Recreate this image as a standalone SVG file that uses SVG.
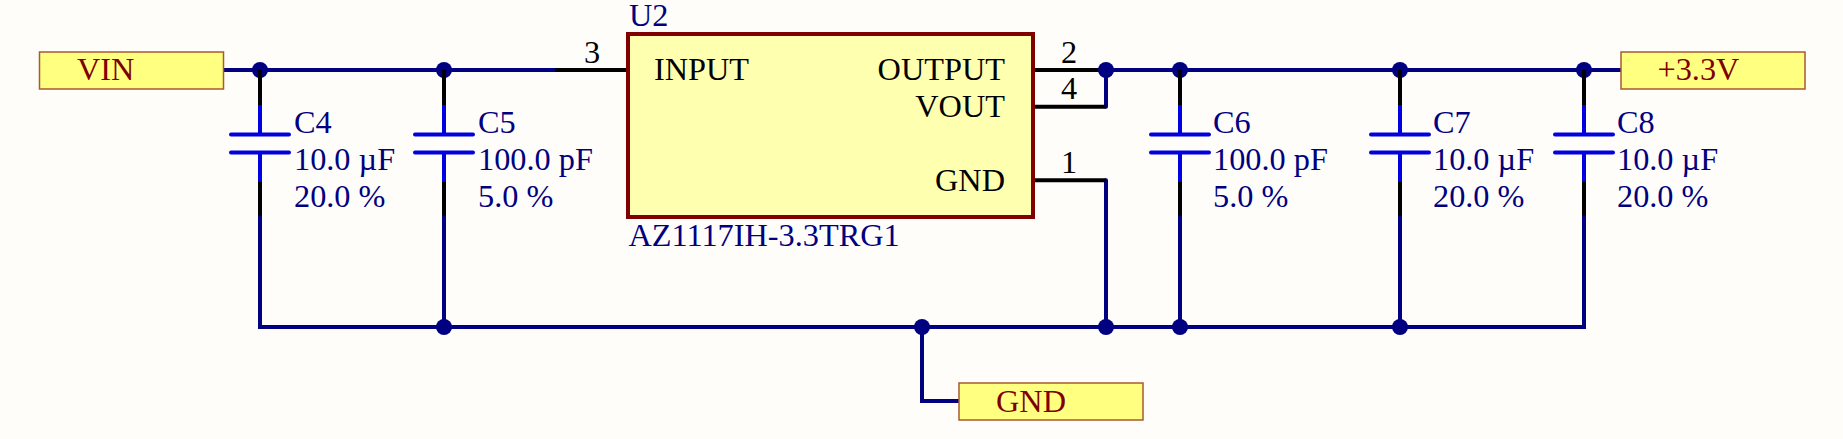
<svg xmlns="http://www.w3.org/2000/svg" width="1843" height="439" viewBox="0 0 1843 439">
<style>
text{font-family:"Liberation Serif","Times New Roman",serif;font-size:32.3px}
.des{fill:#000080}
.pin{fill:#000}
.port{fill:#800000}
.wire{fill:none;stroke:#000080;stroke-width:4;stroke-linecap:round}
.lead{fill:none;stroke:#000;stroke-width:4}
.cap{fill:none;stroke:#0000e0;stroke-width:4}
.plate{fill:none;stroke:#0000e0;stroke-width:4;stroke-linecap:round}
.portbox{fill:#ffff80;stroke:#a85a30;stroke-width:1.5}
.end{text-anchor:end}
.mid{text-anchor:middle}
</style>
<defs>
<g id="capsym">
<path class="lead" d="M0 70V106M0 182V216"/>
<path class="cap" d="M0 105V134M0 153V182"/>
<path class="plate" d="M-29 134.500H29M-29 152.500H29"/>
</g>
<circle id="dot" r="8" fill="#000080"/>
</defs>
<rect width="1843" height="439" fill="#fffdf9"/>
<g id="connectors">
<path class="wire" d="M222 70H555M1106 70H1622M1106 70V106.700M1106 180.300V327M260 216V327H1584V216M444 216V327M1180 216V327M1400 216V327M922 327V401H960"/>
<path class="lead" d="M555 70H628M1033 70H1106M1033 106.700H1106M1033 180.300H1106"/>
<use href="#dot" x="260" y="70"/><use href="#dot" x="444" y="70"/><use href="#dot" x="1106" y="70"/><use href="#dot" x="1180" y="70"/><use href="#dot" x="1400" y="70"/><use href="#dot" x="1584" y="70"/>
<use href="#dot" x="444" y="327"/><use href="#dot" x="922" y="327"/><use href="#dot" x="1106" y="327"/><use href="#dot" x="1180" y="327"/><use href="#dot" x="1400" y="327"/>
</g>
<g id="VIN"><rect class="portbox" x="39.500" y="52" width="184" height="37"/><text class="port" x="77" y="80">VIN</text></g>
<g id="V33"><rect class="portbox" x="1621" y="52" width="184" height="37"/><text class="port" x="1657.500" y="80">+3.3V</text></g>
<g id="GND"><rect class="portbox" x="959" y="383" width="184" height="37"/><text class="port" x="996" y="412">GND</text></g>
<g id="U2">
<rect x="628" y="34" width="405" height="183" fill="#ffffb0" stroke="#800000" stroke-width="4"/>
<text class="des" x="629" y="26">U2</text>
<text class="des" x="628.500" y="246">AZ1117IH-3.3TRG1</text>
<text class="pin" x="654" y="80">INPUT</text>
<text class="pin end" x="1005" y="80">OUTPUT</text>
<text class="pin end" x="1005" y="117">VOUT</text>
<text class="pin end" x="1005" y="191">GND</text>
<text class="pin mid" x="592" y="63">3</text>
<text class="pin mid" x="1069" y="63">2</text>
<text class="pin mid" x="1069" y="99">4</text>
<text class="pin mid" x="1069" y="173">1</text>
</g>
<g id="C4"><use href="#capsym" x="260"/><text class="des" x="294" y="133">C4</text><text class="des" x="294" y="170">10.0 µF</text><text class="des" x="294" y="207">20.0 %</text></g>
<g id="C5"><use href="#capsym" x="444"/><text class="des" x="478" y="133">C5</text><text class="des" x="478" y="170">100.0 pF</text><text class="des" x="478" y="207">5.0 %</text></g>
<g id="C6"><use href="#capsym" x="1180"/><text class="des" x="1213" y="133">C6</text><text class="des" x="1213" y="170">100.0 pF</text><text class="des" x="1213" y="207">5.0 %</text></g>
<g id="C7"><use href="#capsym" x="1400"/><text class="des" x="1433" y="133">C7</text><text class="des" x="1433" y="170">10.0 µF</text><text class="des" x="1433" y="207">20.0 %</text></g>
<g id="C8"><use href="#capsym" x="1584"/><text class="des" x="1617" y="133">C8</text><text class="des" x="1617" y="170">10.0 µF</text><text class="des" x="1617" y="207">20.0 %</text></g>
</svg>
